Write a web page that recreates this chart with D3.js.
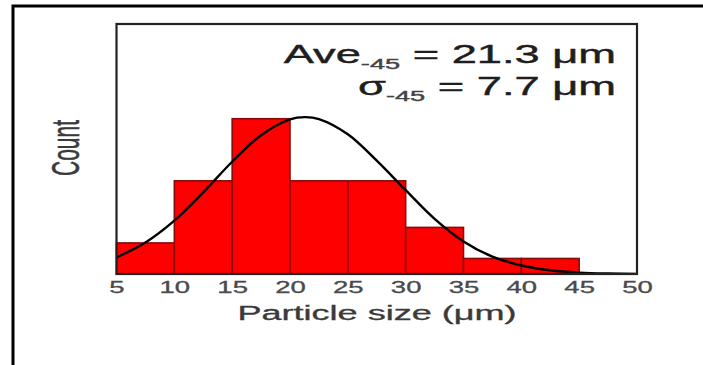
<!DOCTYPE html>
<html>
<head>
<meta charset="utf-8">
<script src="https://cdn.jsdelivr.net/npm/d3@7"></script>
<style>
  html, body { margin: 0; padding: 0; background: #fff; }
  svg { display: block; }
  text { font-family: "Liberation Sans", Arial, sans-serif; }
</style>
</head>
<body>
<svg id="chart" width="703" height="365"></svg>
<script>
// ---- data ----
const binStarts = [5, 10, 15, 20, 25, 30, 35, 40];
const binWidth = 5;
const counts = [2, 6, 10, 6, 6, 3, 1, 1];
const xTicks = [5, 10, 15, 20, 25, 30, 35, 40, 45, 50];
// fitted distribution curve (x in µm, y in counts)
const curveX = [5, 7.5, 10, 12.5, 15, 17.5, 20, 21.3, 22.5, 25, 27.5, 30, 32.5, 35, 37.5, 40, 42.5, 45, 47.5, 50];
const curveY = [1.07, 2.03, 3.44, 5.26, 7.23, 8.94, 9.96, 10.1, 9.98, 9.0, 7.3, 5.4, 3.55, 2.1, 1.12, 0.55, 0.24, 0.09, 0.03, 0.01];
const aveLabel = { main: "Ave", sub: "-45", rest: " = 21.3 μm" };
const sigmaLabel = { main: "σ", sub: "-45", rest: " = 7.7 μm" };
const xTitle = "Particle size (μm)";
const yTitle = "Count";

// ---- layout ----
const svg = d3.select("#chart");
const L = 116.5, R = 637, T = 24, B = 274;

const x = d3.scaleLinear().domain([5, 50]).range([L, R]);
const y = d3.scaleLinear().domain([0, 16.1]).range([B, T]);

// outer frame
svg.append("path")
  .attr("d", `M13,366 L13,6 L704,6`)
  .attr("fill", "none").attr("stroke", "#000").attr("stroke-width", 3);

// bars
svg.append("g").selectAll("rect")
  .data(binStarts.map((s, i) => ({ s, c: counts[i] })))
  .join("rect")
  .attr("x", d => x(d.s))
  .attr("width", d => x(d.s + binWidth) - x(d.s))
  .attr("y", d => y(d.c))
  .attr("height", d => y(0) - y(d.c))
  .attr("fill", "#fe0000")
  .attr("stroke", "#8a0a0a")
  .attr("stroke-width", 1.6);

// curve
const line = d3.line()
  .x((d, i) => x(curveX[i]))
  .y(d => y(d))
  .curve(d3.curveCatmullRom.alpha(0.5));
svg.append("path")
  .datum(curveY)
  .attr("d", line)
  .attr("fill", "none")
  .attr("stroke", "#000")
  .attr("stroke-width", 2.4);

// plot frame
svg.append("rect")
  .attr("x", L).attr("y", T)
  .attr("width", R - L).attr("height", B - T)
  .attr("fill", "none").attr("stroke", "#222").attr("stroke-width", 2.2);

// x axis tick labels (no tick marks)
const xAxis = d3.axisBottom(x).tickValues(xTicks).tickSize(0).tickPadding(0);
const axG = svg.append("g").attr("transform", `translate(0,${B})`).call(xAxis);
axG.select(".domain").remove();
axG.selectAll(".tick text").each(function () {
  const t = d3.select(this);
  t.attr("y", null).attr("dy", null)
   .attr("transform", `translate(0,19) scale(1.72,1)`)
   .attr("font-size", 16)
   .attr("font-family", '"Liberation Sans", Arial, sans-serif')
   .attr("fill", "#4a4a4a")
   .attr("stroke", "#4a4a4a").attr("stroke-width", 0.3);
});

// x title
svg.append("text")
  .attr("transform", `translate(377,320) scale(1.85,1)`)
  .attr("text-anchor", "middle")
  .attr("font-size", 19.5)
  .attr("fill", "#3a3a3a")
  .attr("stroke", "#3a3a3a").attr("stroke-width", 0.3)
  .text(xTitle);

// y title
svg.append("text")
  .attr("transform", `translate(79,148) scale(1.85,1) rotate(-90)`)
  .attr("text-anchor", "middle")
  .attr("font-size", 21)
  .attr("fill", "#3a3a3a")
  .attr("stroke", "#3a3a3a").attr("stroke-width", 0.3)
  .text(yTitle);

// annotations
function annot(lbl, baseY) {
  const t = svg.append("text")
    .attr("transform", `translate(616,${baseY}) scale(1.81,1)`)
    .attr("text-anchor", "end")
    .attr("font-size", 25)
    .attr("fill", "#1e1e1e")
    .attr("stroke", "#1e1e1e").attr("stroke-width", 0.4);
  t.append("tspan").text(lbl.main);
  t.append("tspan").attr("font-size", 15).attr("dy", 6).attr("fill", "#444").attr("stroke", "#444").text(lbl.sub);
  t.append("tspan").attr("dy", -6).text(lbl.rest);
}
annot(aveLabel, 63);
annot(sigmaLabel, 95);
</script>
</body>
</html>
